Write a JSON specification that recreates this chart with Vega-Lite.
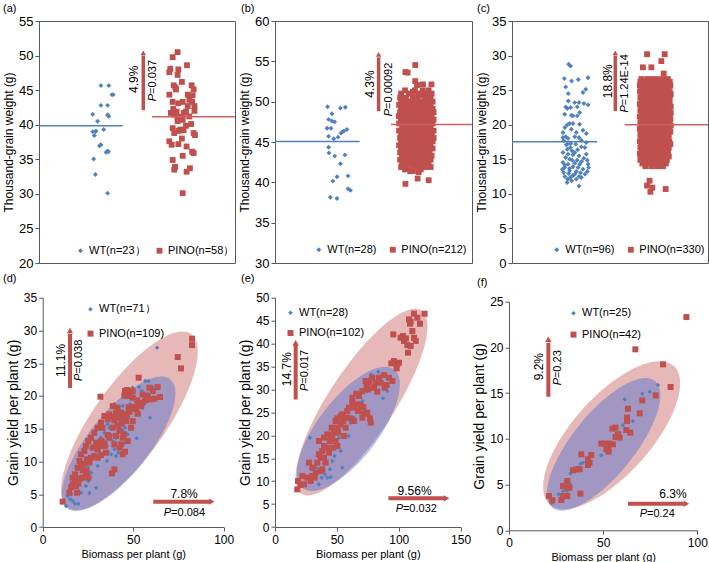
{
"$schema":"https://vega.github.io/schema/vega-lite/v6.json",
"padding":{"left":2,"top":2,"right":0,"bottom":0},
"columns":3,
"spacing":{"row":34.7,"column":40},
"bounds":"flush",
"resolve":{"scale":{"color":"independent","shape":"independent","size":"independent"}},
"config":{
 "font":"Liberation Sans",
 "view":{"stroke":null},
 "axis":{"grid":false,"domainColor":"#595959","tickColor":"#595959","labelColor":"#000","titleColor":"#000","labelFont":"Liberation Sans","titleFont":"Liberation Sans","titleFontWeight":"normal","tickSize":4,"labelPadding":2,"labelFlush":false,"labelOverlap":false,"labelBound":false},
 "axisY":{"labelFontSize":13,"titleFontSize":12},
 "axisX":{"labelFontSize":12,"titleFontSize":11},
 "legend":{"labelFont":"Liberation Sans","labelFontSize":11,"labelColor":"#000","symbolStrokeWidth":0,"padding":0,"labelOffset":3},
 "title":{"font":"Liberation Sans","fontSize":11,"fontWeight":"normal","anchor":"start","frame":"group","color":"#000","baseline":"alphabetic"},
 "text":{"font":"Liberation Sans","color":"#000"}
},
"datasets":{
"a_pts":[{"g":"W","x":31.6,"y":45.66},{"g":"W","x":35.6,"y":45.66},{"g":"W","x":37.2,"y":44.35},{"g":"W","x":37.9,"y":44.35},{"g":"W","x":31.6,"y":42.8},{"g":"W","x":35.0,"y":42.8},{"g":"W","x":27.4,"y":41.5},{"g":"W","x":29.9,"y":40.5},{"g":"W","x":35.0,"y":41.45},{"g":"W","x":35.6,"y":41.2},{"g":"W","x":27.4,"y":39.0},{"g":"W","x":29.1,"y":39.1},{"g":"W","x":28.2,"y":38.45},{"g":"W","x":33.0,"y":39.3},{"g":"W","x":31.6,"y":37.1},{"g":"W","x":30.9,"y":36.95},{"g":"W","x":35.0,"y":36.2},{"g":"W","x":34.2,"y":36.0},{"g":"W","x":27.9,"y":35.05},{"g":"W","x":28.8,"y":32.8},{"g":"W","x":35.0,"y":30.1},{"g":"W","x":28.8,"y":39.0},{"g":"W","x":35.4,"y":36.1},
{"g":"P","x":70.7,"y":50.5},{"g":"P","x":68.2,"y":49.77},{"g":"P","x":75.5,"y":48.6},{"g":"P","x":67.0,"y":48.1},{"g":"P","x":71.1,"y":48.0},{"g":"P","x":66.5,"y":47.6},{"g":"P","x":70.7,"y":47.2},{"g":"P","x":72.9,"y":46.2},{"g":"P","x":68.7,"y":45.7},{"g":"P","x":69.6,"y":45.4},{"g":"P","x":77.9,"y":45.7},{"g":"P","x":78.9,"y":45.1},{"g":"P","x":66.5,"y":44.35},{"g":"P","x":69.9,"y":45.1},{"g":"P","x":75.9,"y":44.35},{"g":"P","x":78.4,"y":44.25},{"g":"P","x":76.7,"y":43.6},{"g":"P","x":68.2,"y":43.3},{"g":"P","x":73.3,"y":43.3},{"g":"P","x":71.1,"y":43.1},{"g":"P","x":78.1,"y":43.3},{"g":"P","x":79.3,"y":42.7},{"g":"P","x":75.9,"y":42.7},{"g":"P","x":68.5,"y":42.3},{"g":"P","x":70.2,"y":41.9},{"g":"P","x":75.0,"y":41.9},{"g":"P","x":67.3,"y":41.7},{"g":"P","x":79.3,"y":42.0},{"g":"P","x":69.0,"y":41.45},{"g":"P","x":70.7,"y":41.1},{"g":"P","x":72.4,"y":41.1},{"g":"P","x":76.7,"y":41.2},{"g":"P","x":70.7,"y":40.5},{"g":"P","x":73.3,"y":40.7},{"g":"P","x":77.6,"y":40.1},{"g":"P","x":75.0,"y":39.85},{"g":"P","x":72.1,"y":39.3},{"g":"P","x":73.8,"y":39.2},{"g":"P","x":71.1,"y":39.1},{"g":"P","x":69.0,"y":38.8},{"g":"P","x":78.9,"y":38.8},{"g":"P","x":79.6,"y":38.5},{"g":"P","x":72.9,"y":38.0},{"g":"P","x":66.5,"y":37.6},{"g":"P","x":67.7,"y":37.1},{"g":"P","x":71.1,"y":37.2},{"g":"P","x":75.3,"y":36.85},{"g":"P","x":78.1,"y":36.1},{"g":"P","x":78.9,"y":35.9},{"g":"P","x":73.3,"y":35.5},{"g":"P","x":68.2,"y":34.9},{"g":"P","x":69.4,"y":33.9},{"g":"P","x":69.0,"y":33.5},{"g":"P","x":77.0,"y":33.7},{"g":"P","x":75.3,"y":33.2},{"g":"P","x":73.3,"y":30.1},{"g":"P","x":73.8,"y":41.7},{"g":"P","x":68.2,"y":39.5}],
"a_mean":[{"g":"W","x":0,"x2":42.7,"y":39.85},{"g":"P","x":57.7,"x2":100,"y":41.15}],
"a_arr":[{"x":53.2,"y":42.1,"y2":50.0}],
"a_head":[{"x":53.2,"y":50.4}],
"a_pct":[{"x":48.6,"y":44.6,"t":"4.9%"}],
"a_pv":[{"x":58.0,"y":43.4,"t":"=0.037"}],
"b_pts":[{"g":"W","x":26.7,"y":49.37},{"g":"W","x":35.7,"y":49.3},{"g":"W","x":33.2,"y":49.2},{"g":"W","x":28.9,"y":48.5},{"g":"W","x":27.2,"y":47.8},{"g":"W","x":28.9,"y":47.6},{"g":"W","x":30.3,"y":47.5},{"g":"W","x":26.4,"y":46.7},{"g":"W","x":28.4,"y":46.7},{"g":"W","x":36.5,"y":46.55},{"g":"W","x":34.9,"y":46.35},{"g":"W","x":33.5,"y":46.1},{"g":"W","x":34.2,"y":46.25},{"g":"W","x":27.2,"y":45.7},{"g":"W","x":32.0,"y":45.6},{"g":"W","x":29.8,"y":45.4},{"g":"W","x":27.2,"y":44.35},{"g":"W","x":27.4,"y":43.65},{"g":"W","x":30.3,"y":43.25},{"g":"W","x":35.5,"y":43.4},{"g":"W","x":33.2,"y":42.3},{"g":"W","x":31.5,"y":40.7},{"g":"W","x":37.1,"y":40.8},{"g":"W","x":29.4,"y":40.15},{"g":"W","x":37.1,"y":39.2},{"g":"W","x":38.3,"y":39.0},{"g":"W","x":28.1,"y":38.15},{"g":"W","x":31.5,"y":38.0},
{"g":"P","x":66.2,"y":53.67},{"g":"P","x":67.3,"y":53.6},{"g":"P","x":71.2,"y":54.54},{"g":"P","x":71.2,"y":52.55},{"g":"P","x":72.1,"y":52.06},{"g":"P","x":79.4,"y":52.14},{"g":"P","x":75.1,"y":52.14},{"g":"P","x":66.2,"y":39.81},{"g":"P","x":72.4,"y":40.47},{"g":"P","x":78.0,"y":40.26},{"g":"P","x":72.9,"y":41.26},{"g":"P","x":68.7,"y":41.38},
{"g":"P","x":66,"y":51.4},{"g":"P","x":71,"y":51.4},{"g":"P","x":75,"y":51.4},{"g":"P","x":78,"y":51.4},{"g":"P","x":70,"y":51.2},
{"g":"P","x":64,"y":51.0},{"g":"P","x":68,"y":51.0},{"g":"P","x":73,"y":51.0},{"g":"P","x":77,"y":51.0},{"g":"P","x":79.5,"y":51.0},{"g":"P","x":75,"y":50.8},
{"g":"P","x":63.5,"y":50.5},{"g":"P","x":66.5,"y":50.5},{"g":"P","x":70,"y":50.5},{"g":"P","x":72.5,"y":50.5},{"g":"P","x":76,"y":50.5},{"g":"P","x":79,"y":50.5},
{"g":"P","x":65.5,"y":50.25},{"g":"P","x":71,"y":50.25},{"g":"P","x":76,"y":50.25},{"g":"P","x":78.5,"y":50.25},
{"g":"P","x":64,"y":50.0},{"g":"P","x":67,"y":50.0},{"g":"P","x":69.5,"y":50.0},{"g":"P","x":72,"y":50.0},{"g":"P","x":74.5,"y":50.0},{"g":"P","x":77,"y":50.0},{"g":"P","x":80,"y":50.0},
{"g":"P","x":63,"y":49.6},{"g":"P","x":65.5,"y":49.6},{"g":"P","x":68.5,"y":49.6},{"g":"P","x":71,"y":49.6},{"g":"P","x":73.5,"y":49.6},{"g":"P","x":76.5,"y":49.6},{"g":"P","x":79,"y":49.6},
{"g":"P","x":66,"y":49.35},{"g":"P","x":70,"y":49.35},{"g":"P","x":74.5,"y":49.35},
{"g":"P","x":64,"y":49.1},{"g":"P","x":66.5,"y":49.1},{"g":"P","x":69,"y":49.1},{"g":"P","x":72,"y":49.1},{"g":"P","x":75,"y":49.1},{"g":"P","x":77.5,"y":49.1},{"g":"P","x":80,"y":49.1},
{"g":"P","x":65,"y":48.95},{"g":"P","x":70,"y":48.95},{"g":"P","x":74,"y":48.95},{"g":"P","x":78.5,"y":48.95},
{"g":"P","x":63.5,"y":48.7},{"g":"P","x":66,"y":48.7},{"g":"P","x":68,"y":48.7},{"g":"P","x":70.5,"y":48.7},{"g":"P","x":73,"y":48.7},{"g":"P","x":75.5,"y":48.7},{"g":"P","x":78,"y":48.7},{"g":"P","x":80.5,"y":48.7},
{"g":"P","x":62.8,"y":48.2},{"g":"P","x":65,"y":48.2},{"g":"P","x":67.5,"y":48.2},{"g":"P","x":70,"y":48.2},{"g":"P","x":72.5,"y":48.2},{"g":"P","x":74.5,"y":48.2},{"g":"P","x":77,"y":48.2},{"g":"P","x":79.5,"y":48.2},
{"g":"P","x":64,"y":47.8},{"g":"P","x":66.5,"y":47.8},{"g":"P","x":69,"y":47.8},{"g":"P","x":71.5,"y":47.8},{"g":"P","x":74,"y":47.8},{"g":"P","x":76,"y":47.8},{"g":"P","x":78.5,"y":47.8},{"g":"P","x":80.5,"y":47.8},
{"g":"P","x":64,"y":47.55},{"g":"P","x":68.5,"y":47.55},{"g":"P","x":73,"y":47.55},{"g":"P","x":77,"y":47.55},
{"g":"P","x":63,"y":47.3},{"g":"P","x":65.5,"y":47.3},{"g":"P","x":68,"y":47.3},{"g":"P","x":70,"y":47.3},{"g":"P","x":72.5,"y":47.3},{"g":"P","x":75,"y":47.3},{"g":"P","x":77.5,"y":47.3},{"g":"P","x":80,"y":47.3},
{"g":"P","x":65,"y":47.05},{"g":"P","x":71,"y":47.05},{"g":"P","x":75.5,"y":47.05},
{"g":"P","x":64.5,"y":46.9},{"g":"P","x":67,"y":46.9},{"g":"P","x":69.5,"y":46.9},{"g":"P","x":71.5,"y":46.9},{"g":"P","x":73.5,"y":46.9},{"g":"P","x":76.5,"y":46.9},{"g":"P","x":79,"y":46.9},
{"g":"P","x":63,"y":46.4},{"g":"P","x":65.5,"y":46.4},{"g":"P","x":68,"y":46.4},{"g":"P","x":70.5,"y":46.4},{"g":"P","x":73,"y":46.4},{"g":"P","x":75.5,"y":46.4},{"g":"P","x":78,"y":46.4},{"g":"P","x":80.5,"y":46.4},
{"g":"P","x":65,"y":46.15},{"g":"P","x":70,"y":46.15},{"g":"P","x":74,"y":46.15},{"g":"P","x":78.5,"y":46.15},
{"g":"P","x":64,"y":46.0},{"g":"P","x":66.5,"y":46.0},{"g":"P","x":69,"y":46.0},{"g":"P","x":72,"y":46.0},{"g":"P","x":74.5,"y":46.0},{"g":"P","x":77,"y":46.0},{"g":"P","x":79.5,"y":46.0},
{"g":"P","x":65,"y":45.8},{"g":"P","x":70,"y":45.8},{"g":"P","x":75,"y":45.8},{"g":"P","x":79.5,"y":45.8},
{"g":"P","x":63.5,"y":45.5},{"g":"P","x":66,"y":45.5},{"g":"P","x":68.5,"y":45.5},{"g":"P","x":71,"y":45.5},{"g":"P","x":73.5,"y":45.5},{"g":"P","x":76,"y":45.5},{"g":"P","x":78.5,"y":45.5},{"g":"P","x":80.5,"y":45.5},
{"g":"P","x":64.5,"y":45.1},{"g":"P","x":67,"y":45.1},{"g":"P","x":70,"y":45.1},{"g":"P","x":72.5,"y":45.1},{"g":"P","x":75,"y":45.1},{"g":"P","x":77.5,"y":45.1},{"g":"P","x":80,"y":45.1},
{"g":"P","x":64,"y":44.85},{"g":"P","x":69,"y":44.85},{"g":"P","x":73,"y":44.85},{"g":"P","x":77.5,"y":44.85},
{"g":"P","x":63,"y":44.6},{"g":"P","x":65.5,"y":44.6},{"g":"P","x":68,"y":44.6},{"g":"P","x":71,"y":44.6},{"g":"P","x":73.5,"y":44.6},{"g":"P","x":76,"y":44.6},{"g":"P","x":79,"y":44.6},
{"g":"P","x":64,"y":44.2},{"g":"P","x":66.5,"y":44.2},{"g":"P","x":69.5,"y":44.2},{"g":"P","x":72,"y":44.2},{"g":"P","x":74.5,"y":44.2},{"g":"P","x":77.5,"y":44.2},{"g":"P","x":80,"y":44.2},
{"g":"P","x":67,"y":43.95},{"g":"P","x":71.5,"y":43.95},{"g":"P","x":76,"y":43.95},
{"g":"P","x":63.5,"y":43.7},{"g":"P","x":66,"y":43.7},{"g":"P","x":68.5,"y":43.7},{"g":"P","x":71,"y":43.7},{"g":"P","x":73,"y":43.7},{"g":"P","x":75.5,"y":43.7},{"g":"P","x":78.5,"y":43.7},
{"g":"P","x":65.5,"y":43.5},{"g":"P","x":70,"y":43.5},{"g":"P","x":74.5,"y":43.5},{"g":"P","x":78,"y":43.5},
{"g":"P","x":64.5,"y":43.3},{"g":"P","x":67,"y":43.3},{"g":"P","x":70,"y":43.3},{"g":"P","x":72.5,"y":43.3},{"g":"P","x":75,"y":43.3},{"g":"P","x":77,"y":43.3},{"g":"P","x":79.5,"y":43.3},
{"g":"P","x":63.5,"y":42.8},{"g":"P","x":66,"y":42.8},{"g":"P","x":69,"y":42.8},{"g":"P","x":71.5,"y":42.8},{"g":"P","x":74,"y":42.8},{"g":"P","x":76.5,"y":42.8},{"g":"P","x":79,"y":42.8},
{"g":"P","x":64.5,"y":42.6},{"g":"P","x":68,"y":42.6},{"g":"P","x":72.5,"y":42.6},
{"g":"P","x":65,"y":42.4},{"g":"P","x":67.5,"y":42.4},{"g":"P","x":70.5,"y":42.4},{"g":"P","x":73,"y":42.4},{"g":"P","x":75.5,"y":42.4},{"g":"P","x":78,"y":42.4},
{"g":"P","x":66,"y":42.1},{"g":"P","x":70,"y":42.1},{"g":"P","x":74,"y":42.1},{"g":"P","x":77.5,"y":42.1},
{"g":"P","x":64,"y":41.9},{"g":"P","x":67,"y":41.9},{"g":"P","x":72,"y":41.9},{"g":"P","x":76.5,"y":41.9},{"g":"P","x":79,"y":41.9},
{"g":"P","x":66,"y":41.6},{"g":"P","x":74,"y":41.6},{"g":"P","x":70,"y":41.4}],
"b_mean":[{"g":"W","x":0,"x2":43.0,"y":45.06},{"g":"P","x":58.9,"x2":100,"y":47.17}],
"b_arr":[{"x":52.6,"y":48.83,"y2":55.5}],
"b_head":[{"x":52.6,"y":55.86}],
"b_pct":[{"x":48.4,"y":50.5,"t":"4.3%"}],
"b_pv":[{"x":57.7,"y":48.2,"t":"=0.00092"}],
"c_pts":[{"g":"W","x":28.9,"y":28.74},{"g":"W","x":29.9,"y":28.5},{"g":"W","x":26.7,"y":26.67},{"g":"W","x":30.4,"y":26.33},{"g":"W","x":33.8,"y":26.53},{"g":"W","x":37.6,"y":25.13},{"g":"W","x":36.2,"y":24.65},{"g":"W","x":28.7,"y":24.5},{"g":"W","x":27.4,"y":22.58},{"g":"W","x":28.2,"y":22.34},{"g":"W","x":29.9,"y":22.48},{"g":"W","x":32.0,"y":23.2},{"g":"W","x":34.2,"y":23.2},{"g":"W","x":36.7,"y":23.06},{"g":"W","x":38.8,"y":22.87},{"g":"W","x":33.3,"y":22.58},{"g":"W","x":26.9,"y":21.52},{"g":"W","x":30.3,"y":21.37},{"g":"W","x":34.5,"y":21.76},{"g":"W","x":33.3,"y":21.28},{"g":"W","x":34.5,"y":20.07},{"g":"W","x":31.1,"y":20.17},{"g":"W","x":29.4,"y":20.17},{"g":"W","x":28.2,"y":19.98},{"g":"W","x":37.9,"y":18.73},{"g":"W","x":26.0,"y":18.15},{"g":"W","x":27.4,"y":18.25},{"g":"W","x":28.6,"y":18.0},{"g":"W","x":32.0,"y":18.25},{"g":"W","x":29.9,"y":17.28},{"g":"W","x":32.5,"y":17.19},{"g":"W","x":35.4,"y":17.76},{"g":"W","x":35.4,"y":16.8},{"g":"W","x":28.2,"y":16.46},{"g":"W","x":30.6,"y":16.22},{"g":"W","x":33.5,"y":16.37},{"g":"W","x":37.2,"y":16.7},{"g":"W","x":31.1,"y":15.65},{"g":"W","x":27.4,"y":15.26},{"g":"W","x":29.4,"y":15.02},{"g":"W","x":37.9,"y":15.74},{"g":"W","x":26.0,"y":14.54},{"g":"W","x":28.6,"y":14.3},{"g":"W","x":32.0,"y":14.44},{"g":"W","x":34.5,"y":14.3},{"g":"W","x":38.8,"y":14.3},{"g":"W","x":26.9,"y":13.82},{"g":"W","x":29.4,"y":13.67},{"g":"W","x":31.1,"y":13.91},{"g":"W","x":33.7,"y":13.82},{"g":"W","x":36.2,"y":13.57},{"g":"W","x":26.4,"y":13.09},{"g":"W","x":28.9,"y":12.95},{"g":"W","x":32.8,"y":13.24},{"g":"W","x":35.0,"y":13.05},{"g":"W","x":38.4,"y":13.24},{"g":"W","x":27.0,"y":12.52},{"g":"W","x":29.8,"y":12.37},{"g":"W","x":31.1,"y":12.66},{"g":"W","x":35.4,"y":12.37},{"g":"W","x":28.4,"y":12.13},{"g":"W","x":34.2,"y":12.52},{"g":"W","x":34.2,"y":11.12},{"g":"W","x":26.4,"y":17.67},{"g":"W","x":27.7,"y":17.09},{"g":"W","x":29.8,"y":16.7},{"g":"W","x":32.0,"y":15.98},{"g":"W","x":34.2,"y":15.5},{"g":"W","x":36.6,"y":15.16},{"g":"W","x":38.4,"y":14.87},{"g":"W","x":26.0,"y":15.98},{"g":"W","x":28.6,"y":15.74},{"g":"W","x":30.8,"y":14.87},{"g":"W","x":33.2,"y":14.87},{"g":"W","x":35.5,"y":14.68},{"g":"W","x":27.0,"y":14.15},{"g":"W","x":29.4,"y":13.33},{"g":"W","x":32.0,"y":12.85},{"g":"W","x":37.2,"y":12.85},{"g":"W","x":39.1,"y":13.82},{"g":"W","x":25.7,"y":13.57},{"g":"W","x":28.1,"y":11.65},{"g":"W","x":30.4,"y":11.89},{"g":"W","x":32.8,"y":12.13},{"g":"W","x":26.0,"y":18.87},{"g":"W","x":27.0,"y":19.59},{"g":"W","x":30.3,"y":19.35},{"g":"W","x":32.8,"y":18.87},{"g":"W","x":36.2,"y":19.21},{"g":"W","x":28.2,"y":17.19},{"g":"W","x":34.2,"y":18.15},{"g":"W","x":37.9,"y":17.43},{"g":"W","x":31.1,"y":21.28},{"g":"W","x":28.7,"y":23.44},{"g":"W","x":27.4,"y":25.47},{"g":"W","x":38.8,"y":26.8},
{"g":"P","x":68.9,"y":30.2},{"g":"P","x":77.9,"y":30.2},{"g":"P","x":76.2,"y":29.2},{"g":"P","x":66.8,"y":28.3},{"g":"P","x":71.1,"y":28.3},{"g":"P","x":77.4,"y":27.4},{"g":"P","x":70.2,"y":11.9},{"g":"P","x":68.9,"y":11.2},{"g":"P","x":71.6,"y":10.9},{"g":"P","x":70.6,"y":10.3},{"g":"P","x":78.4,"y":10.7},
{"g":"P","x":66,"y":26.6},{"g":"P","x":69,"y":26.6},{"g":"P","x":71.5,"y":26.6},{"g":"P","x":74,"y":26.6},{"g":"P","x":77,"y":26.6},{"g":"P","x":79.5,"y":26.6},
{"g":"P","x":65.5,"y":26.2},{"g":"P","x":67.5,"y":26.2},{"g":"P","x":70,"y":26.2},{"g":"P","x":72.5,"y":26.2},{"g":"P","x":75,"y":26.2},{"g":"P","x":76.5,"y":26.2},{"g":"P","x":78.5,"y":26.2},{"g":"P","x":80.5,"y":26.2},
{"g":"P","x":67,"y":26.0},{"g":"P","x":73,"y":26.0},{"g":"P","x":78,"y":26.0},{"g":"P","x":80,"y":26.0},
{"g":"P","x":65.2,"y":25.7},{"g":"P","x":66.8,"y":25.7},{"g":"P","x":68.5,"y":25.7},{"g":"P","x":70.5,"y":25.7},{"g":"P","x":72,"y":25.7},{"g":"P","x":73.5,"y":25.7},{"g":"P","x":75.5,"y":25.7},{"g":"P","x":77.5,"y":25.7},{"g":"P","x":79,"y":25.7},{"g":"P","x":80.8,"y":25.7},
{"g":"P","x":66,"y":25.5},{"g":"P","x":71,"y":25.5},{"g":"P","x":74,"y":25.5},{"g":"P","x":79.5,"y":25.5},
{"g":"P","x":66,"y":25.3},{"g":"P","x":67.5,"y":25.3},{"g":"P","x":69.5,"y":25.3},{"g":"P","x":71,"y":25.3},{"g":"P","x":73,"y":25.3},{"g":"P","x":74.5,"y":25.3},{"g":"P","x":76,"y":25.3},{"g":"P","x":78,"y":25.3},{"g":"P","x":80,"y":25.3},
{"g":"P","x":65.3,"y":24.8},{"g":"P","x":67,"y":24.8},{"g":"P","x":68.5,"y":24.8},{"g":"P","x":70,"y":24.8},{"g":"P","x":72,"y":24.8},{"g":"P","x":73.5,"y":24.8},{"g":"P","x":75,"y":24.8},{"g":"P","x":77,"y":24.8},{"g":"P","x":78.5,"y":24.8},{"g":"P","x":80.5,"y":24.8},
{"g":"P","x":67.5,"y":24.6},{"g":"P","x":72.5,"y":24.6},{"g":"P","x":76,"y":24.6},{"g":"P","x":79,"y":24.6},
{"g":"P","x":66,"y":24.4},{"g":"P","x":68,"y":24.4},{"g":"P","x":69.5,"y":24.4},{"g":"P","x":71.5,"y":24.4},{"g":"P","x":73,"y":24.4},{"g":"P","x":74.5,"y":24.4},{"g":"P","x":76.5,"y":24.4},{"g":"P","x":78,"y":24.4},{"g":"P","x":79.5,"y":24.4},{"g":"P","x":81,"y":24.4},
{"g":"P","x":65.5,"y":23.9},{"g":"P","x":67,"y":23.9},{"g":"P","x":68.8,"y":23.9},{"g":"P","x":70.5,"y":23.9},{"g":"P","x":72,"y":23.9},{"g":"P","x":74,"y":23.9},{"g":"P","x":75.5,"y":23.9},{"g":"P","x":77,"y":23.9},{"g":"P","x":79,"y":23.9},{"g":"P","x":80.5,"y":23.9},
{"g":"P","x":66.5,"y":23.7},{"g":"P","x":70,"y":23.7},{"g":"P","x":75,"y":23.7},{"g":"P","x":80,"y":23.7},
{"g":"P","x":66.3,"y":23.5},{"g":"P","x":68,"y":23.5},{"g":"P","x":69.5,"y":23.5},{"g":"P","x":71,"y":23.5},{"g":"P","x":73,"y":23.5},{"g":"P","x":74.5,"y":23.5},{"g":"P","x":76,"y":23.5},{"g":"P","x":78,"y":23.5},{"g":"P","x":79.8,"y":23.5},
{"g":"P","x":65.2,"y":23.0},{"g":"P","x":67,"y":23.0},{"g":"P","x":68.5,"y":23.0},{"g":"P","x":70,"y":23.0},{"g":"P","x":72,"y":23.0},{"g":"P","x":73.5,"y":23.0},{"g":"P","x":75,"y":23.0},{"g":"P","x":77,"y":23.0},{"g":"P","x":78.5,"y":23.0},{"g":"P","x":80.5,"y":23.0},
{"g":"P","x":67.5,"y":22.8},{"g":"P","x":71.5,"y":22.8},{"g":"P","x":76.5,"y":22.8},{"g":"P","x":79,"y":22.8},
{"g":"P","x":66,"y":22.6},{"g":"P","x":67.5,"y":22.6},{"g":"P","x":69.5,"y":22.6},{"g":"P","x":71,"y":22.6},{"g":"P","x":72.5,"y":22.6},{"g":"P","x":74.5,"y":22.6},{"g":"P","x":76,"y":22.6},{"g":"P","x":77.5,"y":22.6},{"g":"P","x":79.5,"y":22.6},{"g":"P","x":81,"y":22.6},
{"g":"P","x":65.5,"y":22.1},{"g":"P","x":67,"y":22.1},{"g":"P","x":68.5,"y":22.1},{"g":"P","x":70.5,"y":22.1},{"g":"P","x":72,"y":22.1},{"g":"P","x":73.5,"y":22.1},{"g":"P","x":75.5,"y":22.1},{"g":"P","x":77,"y":22.1},{"g":"P","x":78.5,"y":22.1},{"g":"P","x":80,"y":22.1},
{"g":"P","x":66.5,"y":21.9},{"g":"P","x":70,"y":21.9},{"g":"P","x":74,"y":21.9},{"g":"P","x":78.5,"y":21.9},
{"g":"P","x":66.3,"y":21.7},{"g":"P","x":68,"y":21.7},{"g":"P","x":69.5,"y":21.7},{"g":"P","x":71,"y":21.7},{"g":"P","x":73,"y":21.7},{"g":"P","x":74.5,"y":21.7},{"g":"P","x":76,"y":21.7},{"g":"P","x":78,"y":21.7},{"g":"P","x":79.5,"y":21.7},{"g":"P","x":81,"y":21.7},
{"g":"P","x":65.2,"y":21.2},{"g":"P","x":67,"y":21.2},{"g":"P","x":68.5,"y":21.2},{"g":"P","x":70,"y":21.2},{"g":"P","x":72,"y":21.2},{"g":"P","x":73.5,"y":21.2},{"g":"P","x":75,"y":21.2},{"g":"P","x":76.5,"y":21.2},{"g":"P","x":78.5,"y":21.2},{"g":"P","x":80.3,"y":21.2},
{"g":"P","x":67.5,"y":21.0},{"g":"P","x":71.5,"y":21.0},{"g":"P","x":75.5,"y":21.0},{"g":"P","x":79.5,"y":21.0},
{"g":"P","x":66,"y":20.8},{"g":"P","x":67.5,"y":20.8},{"g":"P","x":69.5,"y":20.8},{"g":"P","x":71,"y":20.8},{"g":"P","x":72.5,"y":20.8},{"g":"P","x":74.5,"y":20.8},{"g":"P","x":76,"y":20.8},{"g":"P","x":77.5,"y":20.8},{"g":"P","x":79,"y":20.8},{"g":"P","x":80.8,"y":20.8},
{"g":"P","x":65.5,"y":20.3},{"g":"P","x":67,"y":20.3},{"g":"P","x":68.5,"y":20.3},{"g":"P","x":70.5,"y":20.3},{"g":"P","x":72,"y":20.3},{"g":"P","x":73.5,"y":20.3},{"g":"P","x":75.5,"y":20.3},{"g":"P","x":77,"y":20.3},{"g":"P","x":78.5,"y":20.3},{"g":"P","x":80,"y":20.3},
{"g":"P","x":66.5,"y":20.1},{"g":"P","x":70,"y":20.1},{"g":"P","x":74,"y":20.1},{"g":"P","x":78,"y":20.1},
{"g":"P","x":66.3,"y":19.9},{"g":"P","x":68,"y":19.9},{"g":"P","x":69.5,"y":19.9},{"g":"P","x":71,"y":19.9},{"g":"P","x":73,"y":19.9},{"g":"P","x":74.5,"y":19.9},{"g":"P","x":76,"y":19.9},{"g":"P","x":78,"y":19.9},{"g":"P","x":79.5,"y":19.9},{"g":"P","x":81,"y":19.9},
{"g":"P","x":65.2,"y":19.4},{"g":"P","x":67,"y":19.4},{"g":"P","x":68.5,"y":19.4},{"g":"P","x":70,"y":19.4},{"g":"P","x":72,"y":19.4},{"g":"P","x":73.5,"y":19.4},{"g":"P","x":75,"y":19.4},{"g":"P","x":76.5,"y":19.4},{"g":"P","x":78.5,"y":19.4},{"g":"P","x":80.3,"y":19.4},
{"g":"P","x":67.5,"y":19.2},{"g":"P","x":71.5,"y":19.2},{"g":"P","x":75.5,"y":19.2},{"g":"P","x":79.5,"y":19.2},
{"g":"P","x":66,"y":19.0},{"g":"P","x":67.5,"y":19.0},{"g":"P","x":69.5,"y":19.0},{"g":"P","x":71,"y":19.0},{"g":"P","x":72.5,"y":19.0},{"g":"P","x":74.5,"y":19.0},{"g":"P","x":76,"y":19.0},{"g":"P","x":77.5,"y":19.0},{"g":"P","x":79,"y":19.0},{"g":"P","x":80.8,"y":19.0},
{"g":"P","x":65.5,"y":18.5},{"g":"P","x":67,"y":18.5},{"g":"P","x":68.5,"y":18.5},{"g":"P","x":70.5,"y":18.5},{"g":"P","x":72,"y":18.5},{"g":"P","x":73.5,"y":18.5},{"g":"P","x":75.5,"y":18.5},{"g":"P","x":77,"y":18.5},{"g":"P","x":78.5,"y":18.5},{"g":"P","x":80,"y":18.5},
{"g":"P","x":66.5,"y":18.3},{"g":"P","x":70,"y":18.3},{"g":"P","x":74,"y":18.3},{"g":"P","x":77,"y":18.3},
{"g":"P","x":66.3,"y":18.1},{"g":"P","x":68,"y":18.1},{"g":"P","x":69.5,"y":18.1},{"g":"P","x":71,"y":18.1},{"g":"P","x":73,"y":18.1},{"g":"P","x":74.5,"y":18.1},{"g":"P","x":76,"y":18.1},{"g":"P","x":78,"y":18.1},{"g":"P","x":79.5,"y":18.1},
{"g":"P","x":65.2,"y":17.6},{"g":"P","x":67,"y":17.6},{"g":"P","x":68.5,"y":17.6},{"g":"P","x":70,"y":17.6},{"g":"P","x":72,"y":17.6},{"g":"P","x":73.5,"y":17.6},{"g":"P","x":75,"y":17.6},{"g":"P","x":76.5,"y":17.6},{"g":"P","x":78.5,"y":17.6},{"g":"P","x":80.3,"y":17.6},
{"g":"P","x":67.5,"y":17.4},{"g":"P","x":71.5,"y":17.4},{"g":"P","x":75.5,"y":17.4},{"g":"P","x":79.5,"y":17.4},
{"g":"P","x":66,"y":17.2},{"g":"P","x":67.5,"y":17.2},{"g":"P","x":69.5,"y":17.2},{"g":"P","x":71,"y":17.2},{"g":"P","x":72.5,"y":17.2},{"g":"P","x":74.5,"y":17.2},{"g":"P","x":76,"y":17.2},{"g":"P","x":77.5,"y":17.2},{"g":"P","x":79,"y":17.2},{"g":"P","x":80.8,"y":17.2},
{"g":"P","x":65.5,"y":16.7},{"g":"P","x":67,"y":16.7},{"g":"P","x":68.5,"y":16.7},{"g":"P","x":70.5,"y":16.7},{"g":"P","x":72,"y":16.7},{"g":"P","x":73.5,"y":16.7},{"g":"P","x":75.5,"y":16.7},{"g":"P","x":77,"y":16.7},{"g":"P","x":78.5,"y":16.7},{"g":"P","x":80,"y":16.7},
{"g":"P","x":66.5,"y":16.5},{"g":"P","x":70,"y":16.5},{"g":"P","x":74,"y":16.5},{"g":"P","x":78,"y":16.5},
{"g":"P","x":66.3,"y":16.3},{"g":"P","x":68,"y":16.3},{"g":"P","x":69.5,"y":16.3},{"g":"P","x":71,"y":16.3},{"g":"P","x":73,"y":16.3},{"g":"P","x":74.5,"y":16.3},{"g":"P","x":76,"y":16.3},{"g":"P","x":78,"y":16.3},{"g":"P","x":79.5,"y":16.3},
{"g":"P","x":65.2,"y":15.8},{"g":"P","x":67,"y":15.8},{"g":"P","x":69,"y":15.8},{"g":"P","x":71,"y":15.8},{"g":"P","x":72.5,"y":15.8},{"g":"P","x":74,"y":15.8},{"g":"P","x":76,"y":15.8},{"g":"P","x":77.5,"y":15.8},{"g":"P","x":79.5,"y":15.8},
{"g":"P","x":67.5,"y":15.6},{"g":"P","x":71,"y":15.6},{"g":"P","x":75,"y":15.6},{"g":"P","x":78.5,"y":15.6},
{"g":"P","x":66,"y":15.4},{"g":"P","x":68,"y":15.4},{"g":"P","x":70,"y":15.4},{"g":"P","x":73,"y":15.4},{"g":"P","x":75.5,"y":15.4},{"g":"P","x":78,"y":15.4},{"g":"P","x":80,"y":15.4},
{"g":"P","x":66,"y":15.1},{"g":"P","x":69.5,"y":15.1},{"g":"P","x":73,"y":15.1},{"g":"P","x":77.5,"y":15.1},
{"g":"P","x":65.5,"y":14.9},{"g":"P","x":67.5,"y":14.9},{"g":"P","x":71,"y":14.9},{"g":"P","x":74,"y":14.9},{"g":"P","x":76.5,"y":14.9},{"g":"P","x":79,"y":14.9},
{"g":"P","x":68,"y":14.7},{"g":"P","x":70.5,"y":14.7},
{"g":"P","x":66.5,"y":14.4},{"g":"P","x":69,"y":14.4},{"g":"P","x":72.5,"y":14.4},{"g":"P","x":75.5,"y":14.4},{"g":"P","x":78.5,"y":14.4},
{"g":"P","x":68,"y":14.0},{"g":"P","x":71,"y":14.0},{"g":"P","x":74,"y":14.0},{"g":"P","x":77,"y":14.0}],
"c_mean":[{"g":"W","x":0,"x2":43.4,"y":17.52},{"g":"P","x":57.5,"x2":100,"y":19.98}],
"c_arr":[{"x":52.7,"y":22.0,"y2":30.0}],
"c_head":[{"x":52.7,"y":30.4}],
"c_pct":[{"x":49.0,"y":23.83,"t":"18.8%"}],
"c_pv":[{"x":57.5,"y":21.76,"t":"=1.24E-14"}],
"d_pts":[{"g":"W","x":12.9,"y":3.2},{"g":"W","x":13.8,"y":4.73},{"g":"W","x":15.3,"y":4.22},{"g":"W","x":16.6,"y":3.97},{"g":"W","x":17.9,"y":3.56},{"g":"W","x":19.7,"y":3.56},{"g":"W","x":15.7,"y":4.98},{"g":"W","x":21.2,"y":5.24},{"g":"W","x":25.8,"y":5.19},{"g":"W","x":23.9,"y":6.26},{"g":"W","x":25.2,"y":7.02},{"g":"W","x":26.7,"y":8.29},{"g":"W","x":21.2,"y":10.07},{"g":"W","x":25.2,"y":9.05},{"g":"W","x":30.4,"y":9.31},{"g":"W","x":32.2,"y":11.09},{"g":"W","x":35.5,"y":10.07},{"g":"W","x":35.9,"y":11.5},{"g":"W","x":37.8,"y":11.09},{"g":"W","x":39.6,"y":11.85},{"g":"W","x":41.8,"y":11.34},{"g":"W","x":38.7,"y":13.12},{"g":"W","x":34.1,"y":13.12},{"g":"W","x":31.3,"y":13.12},{"g":"W","x":36.8,"y":15.16},{"g":"W","x":35.9,"y":15.67},{"g":"W","x":37.8,"y":14.04},{"g":"W","x":40.5,"y":13.63},{"g":"W","x":44.2,"y":12.72},{"g":"W","x":45.5,"y":12.87},{"g":"W","x":47.0,"y":14.14},{"g":"W","x":39.6,"y":18.72},{"g":"W","x":44.2,"y":18.46},{"g":"W","x":48.4,"y":18.72},{"g":"W","x":45.5,"y":17.45},{"g":"W","x":51.6,"y":19.23},{"g":"W","x":50.6,"y":20.75},{"g":"W","x":53.2,"y":21.36},{"g":"W","x":49.7,"y":21.26},{"g":"W","x":58.0,"y":20.35},{"g":"W","x":59.9,"y":21.26},{"g":"W","x":58.4,"y":22.28},{"g":"W","x":60.8,"y":21.36},{"g":"W","x":59.3,"y":16.68},{"g":"W","x":53.4,"y":17.19},{"g":"W","x":51.0,"y":17.96},{"g":"W","x":47.0,"y":16.68},{"g":"W","x":51.9,"y":13.53},{"g":"W","x":27.6,"y":10.58},{"g":"W","x":29.1,"y":11.85},{"g":"W","x":26.3,"y":7.53},{"g":"W","x":29.5,"y":6.0},{"g":"W","x":19.7,"y":6.51},{"g":"W","x":32.2,"y":13.63},{"g":"W","x":42.4,"y":15.16},{"g":"W","x":43.3,"y":16.17},{"g":"W","x":40.5,"y":16.94},{"g":"W","x":34.1,"y":14.39},{"g":"W","x":30.4,"y":12.11},{"g":"W","x":23.9,"y":9.05},{"g":"W","x":22.7,"y":7.78},{"g":"W","x":45.5,"y":15.16},{"g":"W","x":49.7,"y":16.17},{"g":"W","x":55.2,"y":18.21},{"g":"W","x":56.5,"y":19.99},{"g":"W","x":54.7,"y":20.75},{"g":"W","x":35.5,"y":12.36},{"g":"W","x":40.5,"y":10.83},{"g":"W","x":44.2,"y":14.65},{"g":"W","x":63.2,"y":27.37},{"g":"W","x":56.7,"y":22.28},
{"g":"P","x":82.5,"y":28.74},{"g":"P","x":82.5,"y":27.77},{"g":"P","x":74.6,"y":25.94},{"g":"P","x":76.4,"y":24.21},{"g":"P","x":53.0,"y":22.79},{"g":"P","x":31.9,"y":19.89},{"g":"P","x":46.6,"y":20.91},{"g":"P","x":45.5,"y":20.75},{"g":"P","x":58.9,"y":21.26},{"g":"P","x":61.7,"y":19.58},{"g":"P","x":64.8,"y":19.84},{"g":"P","x":56.7,"y":19.33},{"g":"P","x":45.1,"y":20.04},{"g":"P","x":49.7,"y":19.74},{"g":"P","x":52.1,"y":19.33},{"g":"P","x":47.5,"y":18.31},{"g":"P","x":49.2,"y":18.06},{"g":"P","x":50.6,"y":18.31},{"g":"P","x":52.9,"y":18.62},{"g":"P","x":54.3,"y":18.46},{"g":"P","x":51.6,"y":17.96},{"g":"P","x":47.9,"y":17.6},{"g":"P","x":46.6,"y":17.19},{"g":"P","x":43.6,"y":16.94},{"g":"P","x":41.4,"y":16.68},{"g":"P","x":45.1,"y":16.68},{"g":"P","x":38.7,"y":18.46},{"g":"P","x":35.9,"y":16.43},{"g":"P","x":39.6,"y":16.28},{"g":"P","x":38.3,"y":16.79},{"g":"P","x":38.7,"y":15.16},{"g":"P","x":41.4,"y":15.56},{"g":"P","x":43.6,"y":15.77},{"g":"P","x":46.0,"y":16.17},{"g":"P","x":42.4,"y":14.65},{"g":"P","x":40.5,"y":13.89},{"g":"P","x":44.8,"y":14.14},{"g":"P","x":47.0,"y":13.12},{"g":"P","x":45.5,"y":11.5},{"g":"P","x":32.2,"y":13.12},{"g":"P","x":34.1,"y":12.72},{"g":"P","x":31.3,"y":12.36},{"g":"P","x":29.5,"y":12.87},{"g":"P","x":30.4,"y":11.85},{"g":"P","x":27.6,"y":12.11},{"g":"P","x":34.1,"y":12.36},{"g":"P","x":35.0,"y":11.34},{"g":"P","x":32.2,"y":10.99},{"g":"P","x":30.4,"y":10.58},{"g":"P","x":28.5,"y":10.83},{"g":"P","x":26.7,"y":10.58},{"g":"P","x":25.8,"y":9.82},{"g":"P","x":24.5,"y":10.33},{"g":"P","x":23.0,"y":9.66},{"g":"P","x":21.2,"y":9.31},{"g":"P","x":22.1,"y":8.65},{"g":"P","x":23.9,"y":8.55},{"g":"P","x":24.5,"y":8.29},{"g":"P","x":25.2,"y":7.53},{"g":"P","x":22.1,"y":7.53},{"g":"P","x":20.3,"y":7.38},{"g":"P","x":19.0,"y":7.02},{"g":"P","x":19.7,"y":6.61},{"g":"P","x":17.9,"y":6.77},{"g":"P","x":18.4,"y":6.26},{"g":"P","x":16.6,"y":6.51},{"g":"P","x":19.0,"y":5.24},{"g":"P","x":14.7,"y":5.24},{"g":"P","x":11.0,"y":3.87},{"g":"P","x":15.7,"y":6.1},{"g":"P","x":35.9,"y":14.04},{"g":"P","x":33.1,"y":15.16},{"g":"P","x":36.8,"y":13.63},{"g":"P","x":39.6,"y":12.61},{"g":"P","x":42.4,"y":12.11},{"g":"P","x":38.3,"y":8.19},{"g":"P","x":39.6,"y":8.8},{"g":"P","x":44.2,"y":11.09},{"g":"P","x":43.3,"y":12.61},{"g":"P","x":49.7,"y":16.17},{"g":"P","x":52.5,"y":17.29},{"g":"P","x":55.2,"y":18.97},{"g":"P","x":58.0,"y":19.99},{"g":"P","x":60.8,"y":20.75},{"g":"P","x":63.5,"y":21.36},{"g":"P","x":59.9,"y":19.48},{"g":"P","x":55.2,"y":20.24},{"g":"P","x":49.7,"y":20.75},{"g":"P","x":47.9,"y":19.99},{"g":"P","x":41.4,"y":18.21},{"g":"P","x":43.3,"y":17.45},{"g":"P","x":40.5,"y":17.45},{"g":"P","x":36.8,"y":17.19},{"g":"P","x":34.1,"y":16.94},{"g":"P","x":32.2,"y":15.92},{"g":"P","x":30.4,"y":15.16},{"g":"P","x":28.5,"y":14.39},{"g":"P","x":26.7,"y":13.63},{"g":"P","x":25.2,"y":13.12},{"g":"P","x":23.9,"y":12.36},{"g":"P","x":23.0,"y":11.6},{"g":"P","x":21.2,"y":11.09},{"g":"P","x":20.3,"y":10.07},{"g":"P","x":19.3,"y":9.05},{"g":"P","x":17.9,"y":8.04},{"g":"P","x":16.6,"y":7.53},{"g":"P","x":44.2,"y":13.63},{"g":"P","x":48.8,"y":15.16}],
"d_er":[{"x":47.9,"y":16.2}],
"d_eb":[{"x":42.0,"y":12.7}],
"d_arr":[{"x":15.1,"y":21.2,"y2":29.5}],
"d_vh":[{"x":15.1,"y":30.0}],
"d_harr":[{"y":3.87,"x":61.1,"x2":92.0}],
"d_hh":[{"x":93.4,"y":3.87}],
"d_pct":[{"x":10.1,"y":22.9,"t":"11.1%"}],
"d_pv":[{"x":19.9,"y":22.3,"t":"=0.038"}],
"d_hpct":[{"x":78.1,"y":4.99,"t":"7.8%"}],
"d_hpv":[{"x":66.9,"y":2.18,"t":"=0.084"}],
"e_pts":[{"g":"W","x":28.3,"y":19.48},{"g":"W","x":30.2,"y":12.57},{"g":"W","x":33.4,"y":12.94},{"g":"W","x":37.7,"y":10.76},{"g":"W","x":39.6,"y":13.81},{"g":"W","x":40.4,"y":11.48},{"g":"W","x":44.4,"y":12.57},{"g":"W","x":45.0,"y":10.9},{"g":"W","x":48.2,"y":15.48},{"g":"W","x":54.4,"y":12.94},{"g":"W","x":59.3,"y":19.84},{"g":"W","x":63.8,"y":23.84},{"g":"W","x":71.9,"y":25.65},{"g":"W","x":76.8,"y":32.41},{"g":"W","x":77.8,"y":33.28},{"g":"W","x":83.5,"y":33.87},{"g":"W","x":87.3,"y":28.05},{"g":"W","x":90.8,"y":29.65},{"g":"W","x":35.5,"y":9.3},{"g":"W","x":42.3,"y":10.76},{"g":"W","x":51.7,"y":19.48},{"g":"W","x":56.3,"y":21.66},{"g":"W","x":61.1,"y":22.75},{"g":"W","x":66.0,"y":25.15},{"g":"W","x":70.6,"y":27.47},{"g":"W","x":74.6,"y":29.65},{"g":"W","x":53.1,"y":16.57},{"g":"W","x":46.3,"y":14.39},
{"g":"P","x":112.3,"y":46.51},{"g":"P","x":120.9,"y":46.51},{"g":"P","x":108.3,"y":45.28},{"g":"P","x":109.1,"y":44.33},{"g":"P","x":109.6,"y":44.77},{"g":"P","x":117.2,"y":44.33},{"g":"P","x":95.6,"y":42.0},{"g":"P","x":101.5,"y":41.28},{"g":"P","x":103.4,"y":41.64},{"g":"P","x":104.2,"y":40.55},{"g":"P","x":105.8,"y":41.13},{"g":"P","x":112.3,"y":41.28},{"g":"P","x":106.9,"y":39.68},{"g":"P","x":109.6,"y":39.46},{"g":"P","x":107.5,"y":38.01},{"g":"P","x":94.0,"y":35.68},{"g":"P","x":98.8,"y":35.47},{"g":"P","x":98.3,"y":34.59},{"g":"P","x":94.8,"y":31.83},{"g":"P","x":88.1,"y":33.14},{"g":"P","x":84.0,"y":32.56},{"g":"P","x":81.3,"y":31.47},{"g":"P","x":88.6,"y":30.38},{"g":"P","x":90.2,"y":30.96},{"g":"P","x":74.1,"y":30.52},{"g":"P","x":75.1,"y":30.01},{"g":"P","x":82.7,"y":29.51},{"g":"P","x":65.7,"y":29.07},{"g":"P","x":75.9,"y":31.47},{"g":"P","x":66.5,"y":26.74},{"g":"P","x":69.2,"y":26.6},{"g":"P","x":71.4,"y":26.16},{"g":"P","x":63.8,"y":26.02},{"g":"P","x":62.5,"y":27.11},{"g":"P","x":67.1,"y":25.29},{"g":"P","x":71.9,"y":24.71},{"g":"P","x":74.6,"y":24.93},{"g":"P","x":76.8,"y":23.69},{"g":"P","x":77.3,"y":22.75},{"g":"P","x":70.6,"y":23.84},{"g":"P","x":63.8,"y":23.11},{"g":"P","x":61.1,"y":23.69},{"g":"P","x":58.4,"y":25.29},{"g":"P","x":55.2,"y":23.11},{"g":"P","x":57.1,"y":21.66},{"g":"P","x":50.4,"y":23.69},{"g":"P","x":53.1,"y":22.38},{"g":"P","x":50.9,"y":20.57},{"g":"P","x":47.7,"y":20.93},{"g":"P","x":46.3,"y":20.06},{"g":"P","x":45.0,"y":19.48},{"g":"P","x":49.0,"y":18.75},{"g":"P","x":47.1,"y":17.3},{"g":"P","x":50.4,"y":17.66},{"g":"P","x":44.4,"y":18.75},{"g":"P","x":42.3,"y":17.3},{"g":"P","x":39.6,"y":17.66},{"g":"P","x":43.6,"y":16.21},{"g":"P","x":38.2,"y":16.57},{"g":"P","x":36.9,"y":15.12},{"g":"P","x":35.5,"y":15.84},{"g":"P","x":39.6,"y":15.12},{"g":"P","x":40.9,"y":14.03},{"g":"P","x":38.2,"y":12.57},{"g":"P","x":34.2,"y":14.03},{"g":"P","x":36.9,"y":12.21},{"g":"P","x":32.9,"y":11.85},{"g":"P","x":30.2,"y":11.12},{"g":"P","x":32.0,"y":10.76},{"g":"P","x":28.8,"y":10.03},{"g":"P","x":26.1,"y":10.76},{"g":"P","x":23.4,"y":9.3},{"g":"P","x":20.7,"y":9.16},{"g":"P","x":18.0,"y":8.21},{"g":"P","x":18.6,"y":10.03},{"g":"P","x":22.1,"y":11.12},{"g":"P","x":30.2,"y":12.94},{"g":"P","x":27.5,"y":14.03},{"g":"P","x":42.3,"y":20.2},{"g":"P","x":45.8,"y":21.66},{"g":"P","x":50.4,"y":21.66},{"g":"P","x":54.4,"y":24.56},{"g":"P","x":57.9,"y":23.84},{"g":"P","x":59.8,"y":26.02},{"g":"P","x":62.5,"y":28.2},{"g":"P","x":67.9,"y":28.56},{"g":"P","x":70.6,"y":29.65},{"g":"P","x":73.2,"y":31.83},{"g":"P","x":78.6,"y":32.56},{"g":"P","x":80.0,"y":30.38},{"g":"P","x":85.4,"y":31.47},{"g":"P","x":92.1,"y":32.56},{"g":"P","x":96.1,"y":36.19},{"g":"P","x":100.2,"y":35.83},{"g":"P","x":111.0,"y":42.73},{"g":"P","x":115.0,"y":45.64},{"g":"P","x":113.7,"y":40.55},{"g":"P","x":35.5,"y":18.75},{"g":"P","x":39.6,"y":19.48},{"g":"P","x":55.7,"y":19.84},{"g":"P","x":49.0,"y":23.11},{"g":"P","x":53.1,"y":24.2}],
"e_er":[{"x":70.0,"y":27.25}],
"e_eb":[{"x":59.3,"y":21.4}],
"e_arr":[{"x":16.7,"y":27.8,"y2":39.7}],
"e_vh":[{"x":16.7,"y":40.2}],
"e_harr":[{"y":6.25,"x":91.6,"x2":137.0}],
"e_hh":[{"x":138.7,"y":6.25}],
"e_pct":[{"x":10.0,"y":30.7,"t":"14.7%"}],
"e_pv":[{"x":24.2,"y":29.65,"t":"=0.017"}],
"e_hpct":[{"x":112.8,"y":7.85,"t":"9.56%"}],
"e_hpv":[{"x":97.5,"y":4.0,"t":"=0.032"}],
"f_pts":[{"g":"W","x":22.8,"y":3.02},{"g":"W","x":26.4,"y":3.94},{"g":"W","x":28.7,"y":4.3},{"g":"W","x":29.6,"y":4.66},{"g":"W","x":30.4,"y":4.96},{"g":"W","x":32.2,"y":5.1},{"g":"W","x":32.7,"y":6.2},{"g":"W","x":34.0,"y":6.67},{"g":"W","x":38.1,"y":7.29},{"g":"W","x":39.3,"y":7.4},{"g":"W","x":49.0,"y":8.2},{"g":"W","x":52.2,"y":9.04},{"g":"W","x":54.9,"y":9.48},{"g":"W","x":57.3,"y":10.31},{"g":"W","x":60.5,"y":11.48},{"g":"W","x":61.4,"y":14.32},{"g":"W","x":65.8,"y":11.95},{"g":"W","x":70.8,"y":14.94},{"g":"W","x":74.7,"y":15.16},{"g":"W","x":79.1,"y":15.89},{"g":"W","x":30.1,"y":5.39},{"g":"W","x":36.6,"y":6.85},{"g":"W","x":58.8,"y":10.68},{"g":"W","x":53.5,"y":8.67},{"g":"W","x":30.8,"y":4.3},
{"g":"P","x":94.2,"y":23.32},{"g":"P","x":67.1,"y":19.79},{"g":"P","x":81.8,"y":18.15},{"g":"P","x":85.8,"y":15.67},{"g":"P","x":77.9,"y":14.76},{"g":"P","x":70.8,"y":14.21},{"g":"P","x":63.2,"y":13.3},{"g":"P","x":62.7,"y":12.32},{"g":"P","x":62.7,"y":11.95},{"g":"P","x":69.4,"y":12.79},{"g":"P","x":62.3,"y":10.97},{"g":"P","x":64.4,"y":10.68},{"g":"P","x":56.6,"y":11.22},{"g":"P","x":54.9,"y":11.12},{"g":"P","x":57.9,"y":10.5},{"g":"P","x":56.6,"y":10.2},{"g":"P","x":53.1,"y":9.48},{"g":"P","x":55.2,"y":9.4},{"g":"P","x":49.0,"y":9.48},{"g":"P","x":50.8,"y":9.48},{"g":"P","x":52.6,"y":9.04},{"g":"P","x":52.9,"y":8.6},{"g":"P","x":43.7,"y":8.24},{"g":"P","x":42.8,"y":7.4},{"g":"P","x":41.9,"y":7.14},{"g":"P","x":38.4,"y":8.31},{"g":"P","x":34.0,"y":6.56},{"g":"P","x":35.8,"y":6.67},{"g":"P","x":37.5,"y":6.67},{"g":"P","x":37.9,"y":4.01},{"g":"P","x":28.7,"y":4.85},{"g":"P","x":31.0,"y":4.66},{"g":"P","x":31.0,"y":3.75},{"g":"P","x":21.2,"y":3.75},{"g":"P","x":23.0,"y":3.28},{"g":"P","x":27.8,"y":3.32},{"g":"P","x":28.7,"y":3.75},{"g":"P","x":32.2,"y":4.66},{"g":"P","x":51.7,"y":8.86},{"g":"P","x":58.8,"y":10.13},{"g":"P","x":41.9,"y":7.76},{"g":"P","x":31.0,"y":5.39}],
"f_er":[{"x":54.5,"y":10.4}],
"f_eb":[{"x":50.3,"y":9.4}],
"f_arr":[{"x":20.9,"y":14.6,"y2":20.5}],
"f_vh":[{"x":20.9,"y":20.9}],
"f_harr":[{"y":2.9,"x":63.2,"x2":92.8}],
"f_hh":[{"x":94.2,"y":2.9}],
"f_pct":[{"x":15.75,"y":16.4,"t":"9.2%"}],
"f_pv":[{"x":26.0,"y":15.85,"t":"=0.23"}],
"f_hpct":[{"x":87.1,"y":3.94,"t":"6.3%"}],
"f_hpv":[{"x":69.4,"y":1.82,"t":"=0.24"}]
},
"concat":[
{"width":196,"height":242,"view":{"stroke":"#595959"},
 "title":{"text":"(a)","dx":-36,"offset":1},
 "encoding":{
  "x":{"field":"x","type":"quantitative","scale":{"domain":[0,100],"nice":false,"zero":false},"axis":null},
  "y":{"field":"y","type":"quantitative","scale":{"domain":[20,55],"nice":false,"zero":false},"axis":{"title":"Thousand-grain weight (g)","values":[20,25,30,35,40,45,50,55],"titlePadding":3,"labelOverlap":false}}},
 "layer":[
  {"data":{"name":"a_pts"},"mark":{"type":"point","filled":true,"opacity":1,"strokeWidth":0},
   "encoding":{
    "color":{"field":"g","type":"nominal","scale":{"domain":["W","P"],"range":["#4f81bd","#c0504d"]},"legend":{"title":null,"orient":"none","legendX":36,"legendY":224,"direction":"horizontal","columnPadding":8,"symbolSize":28,"labelExpr":"datum.label=='W'?'WT(n=23）':'PINO(n=58）'"}},
    "shape":{"field":"g","type":"nominal","scale":{"domain":["W","P"],"range":["diamond","square"]},"legend":{"title":null,"orient":"none","legendX":36,"legendY":224,"direction":"horizontal","columnPadding":8,"symbolSize":28,"labelExpr":"datum.label=='W'?'WT(n=23）':'PINO(n=58）'"}},
    "size":{"field":"g","type":"nominal","scale":{"domain":["W","P"],"range":[24,34]},"legend":null}}},
  {"data":{"name":"a_mean"},"mark":{"type":"rule","strokeWidth":1.5},"encoding":{"x2":{"field":"x2"},"stroke":{"condition":{"test":"datum.g=='W'","value":"#4f81bd"},"value":"#d0605d"}}},
  {"data":{"name":"a_arr"},"mark":{"type":"rule","strokeWidth":3.5,"color":"#c0504d"},"encoding":{"y2":{"field":"y2"}}},
  {"data":{"name":"a_head"},"mark":{"type":"point","shape":"triangle-up","filled":true,"opacity":1,"color":"#c0504d","size":30,"strokeWidth":0},"encoding":{}},
  {"data":{"name":"a_pct"},"mark":{"type":"text","angle":270,"align":"left","baseline":"middle","fontSize":12},"encoding":{"text":{"field":"t"}}},
  {"data":{"name":"a_pv"},"mark":{"type":"text","angle":270,"align":"left","baseline":"middle","fontSize":11,"fontStyle":"italic"},"encoding":{"text":{"value":"P"}}},
  {"data":{"name":"a_pv"},"mark":{"type":"text","angle":270,"align":"left","baseline":"middle","fontSize":11,"dx":7.3},"encoding":{"text":{"field":"t"}}}
 ]},
{"width":197,"height":242,"view":{"stroke":"#595959"},
 "title":{"text":"(b)","dx":-34,"offset":1},
 "encoding":{
  "x":{"field":"x","type":"quantitative","scale":{"domain":[0,100],"nice":false,"zero":false},"axis":null},
  "y":{"field":"y","type":"quantitative","scale":{"domain":[30,60],"nice":false,"zero":false},"axis":{"title":"Thousand-grain weight (g)","values":[30,35,40,45,50,55,60],"titlePadding":3,"labelOverlap":false}}},
 "layer":[
  {"data":{"name":"b_pts"},"mark":{"type":"point","filled":true,"opacity":1,"strokeWidth":0},
   "encoding":{
    "color":{"field":"g","type":"nominal","scale":{"domain":["W","P"],"range":["#4f81bd","#c0504d"]},"legend":{"title":null,"orient":"none","legendX":38.3,"legendY":223,"direction":"horizontal","columnPadding":10,"symbolSize":28,"labelExpr":"datum.label=='W'?'WT(n=28)':'PINO(n=212)'"}},
    "shape":{"field":"g","type":"nominal","scale":{"domain":["W","P"],"range":["diamond","square"]},"legend":{"title":null,"orient":"none","legendX":38.3,"legendY":223,"direction":"horizontal","columnPadding":10,"symbolSize":28,"labelExpr":"datum.label=='W'?'WT(n=28)':'PINO(n=212)'"}},
    "size":{"field":"g","type":"nominal","scale":{"domain":["W","P"],"range":[24,34]},"legend":null}}},
  {"data":{"name":"b_mean"},"mark":{"type":"rule","strokeWidth":1.5},"encoding":{"x2":{"field":"x2"},"stroke":{"condition":{"test":"datum.g=='W'","value":"#4f81bd"},"value":"#d0605d"}}},
  {"data":{"name":"b_arr"},"mark":{"type":"rule","strokeWidth":3.5,"color":"#c0504d"},"encoding":{"y2":{"field":"y2"}}},
  {"data":{"name":"b_head"},"mark":{"type":"point","shape":"triangle-up","filled":true,"opacity":1,"color":"#c0504d","size":30,"strokeWidth":0},"encoding":{}},
  {"data":{"name":"b_pct"},"mark":{"type":"text","angle":270,"align":"left","baseline":"middle","fontSize":12},"encoding":{"text":{"field":"t"}}},
  {"data":{"name":"b_pv"},"mark":{"type":"text","angle":270,"align":"left","baseline":"middle","fontSize":11,"fontStyle":"italic"},"encoding":{"text":{"value":"P"}}},
  {"data":{"name":"b_pv"},"mark":{"type":"text","angle":270,"align":"left","baseline":"middle","fontSize":11,"dx":7.3},"encoding":{"text":{"field":"t"}}}
 ]},
{"width":196,"height":242,"view":{"stroke":"#595959"},
 "title":{"text":"(c)","dx":-35,"offset":1},
 "encoding":{
  "x":{"field":"x","type":"quantitative","scale":{"domain":[0,100],"nice":false,"zero":false},"axis":null},
  "y":{"field":"y","type":"quantitative","scale":{"domain":[0,35],"nice":false,"zero":false},"axis":{"title":"Thousand-grain weight (g)","values":[0,5,10,15,20,25,30,35],"titlePadding":3,"labelOverlap":false}}},
 "layer":[
  {"data":{"name":"c_pts"},"mark":{"type":"point","filled":true,"opacity":1,"strokeWidth":0},
   "encoding":{
    "color":{"field":"g","type":"nominal","scale":{"domain":["W","P"],"range":["#4f81bd","#c0504d"]},"legend":{"title":null,"orient":"none","legendX":39.3,"legendY":223,"direction":"horizontal","columnPadding":10,"symbolSize":28,"labelExpr":"datum.label=='W'?'WT(n=96)':'PINO(n=330)'"}},
    "shape":{"field":"g","type":"nominal","scale":{"domain":["W","P"],"range":["diamond","square"]},"legend":{"title":null,"orient":"none","legendX":39.3,"legendY":223,"direction":"horizontal","columnPadding":10,"symbolSize":28,"labelExpr":"datum.label=='W'?'WT(n=96)':'PINO(n=330)'"}},
    "size":{"field":"g","type":"nominal","scale":{"domain":["W","P"],"range":[24,34]},"legend":null}}},
  {"data":{"name":"c_mean"},"mark":{"type":"rule","strokeWidth":1.5},"encoding":{"x2":{"field":"x2"},"stroke":{"condition":{"test":"datum.g=='W'","value":"#4f81bd"},"value":"#d0605d"}}},
  {"data":{"name":"c_arr"},"mark":{"type":"rule","strokeWidth":3.5,"color":"#c0504d"},"encoding":{"y2":{"field":"y2"}}},
  {"data":{"name":"c_head"},"mark":{"type":"point","shape":"triangle-up","filled":true,"opacity":1,"color":"#c0504d","size":30,"strokeWidth":0},"encoding":{}},
  {"data":{"name":"c_pct"},"mark":{"type":"text","angle":270,"align":"left","baseline":"middle","fontSize":12},"encoding":{"text":{"field":"t"}}},
  {"data":{"name":"c_pv"},"mark":{"type":"text","angle":270,"align":"left","baseline":"middle","fontSize":11,"fontStyle":"italic"},"encoding":{"text":{"value":"P"}}},
  {"data":{"name":"c_pv"},"mark":{"type":"text","angle":270,"align":"left","baseline":"middle","fontSize":11,"dx":7.3},"encoding":{"text":{"field":"t"}}}
 ]},
{"width":185,"height":229.3,
 "title":{"text":"(d)","dx":-36,"offset":8},
 "encoding":{
  "x":{"field":"x","type":"quantitative","scale":{"domain":[0,100],"nice":false,"zero":false,"range":[3.7,184.7]},"axis":{"title":"Biomass per plant (g)","values":[0,50,100],"titlePadding":3,"labelPadding":3,"labelOverlap":false}},
  "y":{"field":"y","type":"quantitative","scale":{"domain":[0,35],"nice":false,"zero":false},"axis":{"title":"Grain yield per plant (g)","values":[0,5,10,15,20,25,30,35],"offset":-3.7,"labelFontSize":12,"titleFontSize":14,"titlePadding":3,"labelOverlap":false}}},
 "layer":[
  {"data":{"name":"d_er"},"mark":{"type":"point","shape":"M-1,0A1,0.34,0,1,0,1,0A1,0.34,0,1,0,-1,0Z","size":45369,"angle":305.4,"filled":true,"color":"#c0504d","opacity":0.4,"strokeWidth":0},"encoding":{}},
  {"data":{"name":"d_eb"},"mark":{"type":"point","shape":"M-1,0A1,0.37,0,1,0,1,0A1,0.37,0,1,0,-1,0Z","size":27225,"angle":308.7,"filled":true,"color":"#4f6fcf","opacity":0.45,"strokeWidth":0},"encoding":{}},
  {"data":{"name":"d_pts"},"mark":{"type":"point","filled":true,"opacity":1,"strokeWidth":0},
   "encoding":{
    "color":{"field":"g","type":"nominal","scale":{"domain":["W","P"],"range":["#4f81bd","#c0504d"]},"legend":{"title":null,"orient":"none","legendX":46,"legendY":6,"direction":"vertical","rowPadding":12.4,"symbolSize":28,"labelExpr":"datum.label=='W'?'WT(n=71）':'PINO(n=109)'"}},
    "shape":{"field":"g","type":"nominal","scale":{"domain":["W","P"],"range":["diamond","square"]},"legend":{"title":null,"orient":"none","legendX":46,"legendY":6,"direction":"vertical","rowPadding":12.4,"symbolSize":28,"labelExpr":"datum.label=='W'?'WT(n=71）':'PINO(n=109)'"}},
    "size":{"field":"g","type":"nominal","scale":{"domain":["W","P"],"range":[20,36]},"legend":null}}},
  {"data":{"name":"d_arr"},"mark":{"type":"rule","strokeWidth":4,"color":"#c0504d"},"encoding":{"y2":{"field":"y2"}}},
  {"data":{"name":"d_vh"},"mark":{"type":"point","shape":"triangle-up","filled":true,"opacity":1,"color":"#c0504d","size":40,"strokeWidth":0},"encoding":{}},
  {"data":{"name":"d_harr"},"mark":{"type":"rule","strokeWidth":4,"color":"#c0504d"},"encoding":{"x2":{"field":"x2"}}},
  {"data":{"name":"d_hh"},"mark":{"type":"point","shape":"triangle-right","filled":true,"opacity":1,"color":"#c0504d","size":40,"strokeWidth":0},"encoding":{}},
  {"data":{"name":"d_pct"},"mark":{"type":"text","angle":270,"align":"left","baseline":"middle","fontSize":12},"encoding":{"text":{"field":"t"}}},
  {"data":{"name":"d_pv"},"mark":{"type":"text","angle":270,"align":"left","baseline":"middle","fontSize":11,"fontStyle":"italic"},"encoding":{"text":{"value":"P"}}},
  {"data":{"name":"d_pv"},"mark":{"type":"text","angle":270,"align":"left","baseline":"middle","fontSize":11,"dx":7.3},"encoding":{"text":{"field":"t"}}},
  {"data":{"name":"d_hpct"},"mark":{"type":"text","align":"center","baseline":"middle","fontSize":12},"encoding":{"text":{"field":"t"}}},
  {"data":{"name":"d_hpv"},"mark":{"type":"text","align":"left","baseline":"middle","fontSize":11,"fontStyle":"italic"},"encoding":{"text":{"value":"P"}}},
  {"data":{"name":"d_hpv"},"mark":{"type":"text","align":"left","baseline":"middle","fontSize":11,"dx":7.3},"encoding":{"text":{"field":"t"}}}
 ]},
{"width":185.6,"height":229.3,
 "title":{"text":"(e)","dx":-34,"offset":8},
 "encoding":{
  "x":{"field":"x","type":"quantitative","scale":{"domain":[0,150],"nice":false,"zero":false},"axis":{"title":"Biomass per plant (g)","values":[0,50,100,150],"titlePadding":3,"labelPadding":3,"labelOverlap":false}},
  "y":{"field":"y","type":"quantitative","scale":{"domain":[0,50],"nice":false,"zero":false},"axis":{"title":"Grain yield per plant (g)","values":[0,5,10,15,20,25,30,35,40,45,50],"labelFontSize":12,"titleFontSize":14,"titlePadding":3,"labelOverlap":false}}},
 "layer":[
  {"data":{"name":"e_er"},"mark":{"type":"point","shape":"M-1,0A1,0.3,0,1,0,1,0A1,0.3,0,1,0,-1,0Z","size":47961,"angle":303.2,"filled":true,"color":"#c0504d","opacity":0.4,"strokeWidth":0},"encoding":{}},
  {"data":{"name":"e_eb"},"mark":{"type":"point","shape":"M-1,0A1,0.4,0,1,0,1,0A1,0.4,0,1,0,-1,0Z","size":22500,"angle":307.6,"filled":true,"color":"#4f6fcf","opacity":0.45,"strokeWidth":0},"encoding":{}},
  {"data":{"name":"e_pts"},"mark":{"type":"point","filled":true,"opacity":1,"strokeWidth":0},
   "encoding":{
    "color":{"field":"g","type":"nominal","scale":{"domain":["W","P"],"range":["#4f81bd","#c0504d"]},"legend":{"title":null,"orient":"none","legendX":10,"legendY":9.5,"direction":"vertical","rowPadding":8.3,"symbolSize":28,"labelExpr":"datum.label=='W'?'WT(n=28)':'PINO(n=102)'"}},
    "shape":{"field":"g","type":"nominal","scale":{"domain":["W","P"],"range":["diamond","square"]},"legend":{"title":null,"orient":"none","legendX":10,"legendY":9.5,"direction":"vertical","rowPadding":8.3,"symbolSize":28,"labelExpr":"datum.label=='W'?'WT(n=28)':'PINO(n=102)'"}},
    "size":{"field":"g","type":"nominal","scale":{"domain":["W","P"],"range":[20,36]},"legend":null}}},
  {"data":{"name":"e_arr"},"mark":{"type":"rule","strokeWidth":4,"color":"#c0504d"},"encoding":{"y2":{"field":"y2"}}},
  {"data":{"name":"e_vh"},"mark":{"type":"point","shape":"triangle-up","filled":true,"opacity":1,"color":"#c0504d","size":40,"strokeWidth":0},"encoding":{}},
  {"data":{"name":"e_harr"},"mark":{"type":"rule","strokeWidth":4,"color":"#c0504d"},"encoding":{"x2":{"field":"x2"}}},
  {"data":{"name":"e_hh"},"mark":{"type":"point","shape":"triangle-right","filled":true,"opacity":1,"color":"#c0504d","size":40,"strokeWidth":0},"encoding":{}},
  {"data":{"name":"e_pct"},"mark":{"type":"text","angle":270,"align":"left","baseline":"middle","fontSize":12},"encoding":{"text":{"field":"t"}}},
  {"data":{"name":"e_pv"},"mark":{"type":"text","angle":270,"align":"left","baseline":"middle","fontSize":11,"fontStyle":"italic"},"encoding":{"text":{"value":"P"}}},
  {"data":{"name":"e_pv"},"mark":{"type":"text","angle":270,"align":"left","baseline":"middle","fontSize":11,"dx":7.3},"encoding":{"text":{"field":"t"}}},
  {"data":{"name":"e_hpct"},"mark":{"type":"text","align":"center","baseline":"middle","fontSize":12},"encoding":{"text":{"field":"t"}}},
  {"data":{"name":"e_hpv"},"mark":{"type":"text","align":"left","baseline":"middle","fontSize":11,"fontStyle":"italic"},"encoding":{"text":{"value":"P"}}},
  {"data":{"name":"e_hpv"},"mark":{"type":"text","align":"left","baseline":"middle","fontSize":11,"dx":7.3},"encoding":{"text":{"field":"t"}}}
 ]},
{"width":186,"height":229.3,
 "title":{"text":"(f)","dx":-35,"offset":8},
 "encoding":{
  "x":{"field":"x","type":"quantitative","scale":{"domain":[0,100],"nice":false,"zero":false,"range":[-3,185.3]},"axis":{"title":"Biomass per plant (g)","values":[0,50,100],"titlePadding":3,"labelPadding":3,"offset":3.3,"labelOverlap":false}},
  "y":{"field":"y","type":"quantitative","scale":{"domain":[0,25],"nice":false,"zero":false,"range":[232.6,4]},"axis":{"title":"Grain yield per plant (g)","values":[0,5,10,15,20,25],"offset":3,"labelFontSize":12,"titleFontSize":14,"titlePadding":3,"labelOverlap":false}}},
 "layer":[
  {"data":{"name":"f_er"},"mark":{"type":"point","shape":"M-1,0A1,0.42,0,1,0,1,0A1,0.42,0,1,0,-1,0Z","size":34596,"angle":311.8,"filled":true,"color":"#c0504d","opacity":0.4,"strokeWidth":0},"encoding":{}},
  {"data":{"name":"f_eb"},"mark":{"type":"point","shape":"M-1,0A1,0.38,0,1,0,1,0A1,0.38,0,1,0,-1,0Z","size":26569,"angle":309,"filled":true,"color":"#4f6fcf","opacity":0.45,"strokeWidth":0},"encoding":{}},
  {"data":{"name":"f_pts"},"mark":{"type":"point","filled":true,"opacity":1,"strokeWidth":0},
   "encoding":{
    "color":{"field":"g","type":"nominal","scale":{"domain":["W","P"],"range":["#4f81bd","#c0504d"]},"legend":{"title":null,"orient":"none","legendX":56,"legendY":10,"direction":"vertical","rowPadding":9.4,"symbolSize":28,"labelExpr":"datum.label=='W'?'WT(n=25)':'PINO(n=42)'"}},
    "shape":{"field":"g","type":"nominal","scale":{"domain":["W","P"],"range":["diamond","square"]},"legend":{"title":null,"orient":"none","legendX":56,"legendY":10,"direction":"vertical","rowPadding":9.4,"symbolSize":28,"labelExpr":"datum.label=='W'?'WT(n=25)':'PINO(n=42)'"}},
    "size":{"field":"g","type":"nominal","scale":{"domain":["W","P"],"range":[20,36]},"legend":null}}},
  {"data":{"name":"f_arr"},"mark":{"type":"rule","strokeWidth":4,"color":"#c0504d"},"encoding":{"y2":{"field":"y2"}}},
  {"data":{"name":"f_vh"},"mark":{"type":"point","shape":"triangle-up","filled":true,"opacity":1,"color":"#c0504d","size":40,"strokeWidth":0},"encoding":{}},
  {"data":{"name":"f_harr"},"mark":{"type":"rule","strokeWidth":4,"color":"#c0504d"},"encoding":{"x2":{"field":"x2"}}},
  {"data":{"name":"f_hh"},"mark":{"type":"point","shape":"triangle-right","filled":true,"opacity":1,"color":"#c0504d","size":40,"strokeWidth":0},"encoding":{}},
  {"data":{"name":"f_pct"},"mark":{"type":"text","angle":270,"align":"left","baseline":"middle","fontSize":12},"encoding":{"text":{"field":"t"}}},
  {"data":{"name":"f_pv"},"mark":{"type":"text","angle":270,"align":"left","baseline":"middle","fontSize":11,"fontStyle":"italic"},"encoding":{"text":{"value":"P"}}},
  {"data":{"name":"f_pv"},"mark":{"type":"text","angle":270,"align":"left","baseline":"middle","fontSize":11,"dx":7.3},"encoding":{"text":{"field":"t"}}},
  {"data":{"name":"f_hpct"},"mark":{"type":"text","align":"center","baseline":"middle","fontSize":12},"encoding":{"text":{"field":"t"}}},
  {"data":{"name":"f_hpv"},"mark":{"type":"text","align":"left","baseline":"middle","fontSize":11,"fontStyle":"italic"},"encoding":{"text":{"value":"P"}}},
  {"data":{"name":"f_hpv"},"mark":{"type":"text","align":"left","baseline":"middle","fontSize":11,"dx":7.3},"encoding":{"text":{"field":"t"}}}
 ]}
]
}
